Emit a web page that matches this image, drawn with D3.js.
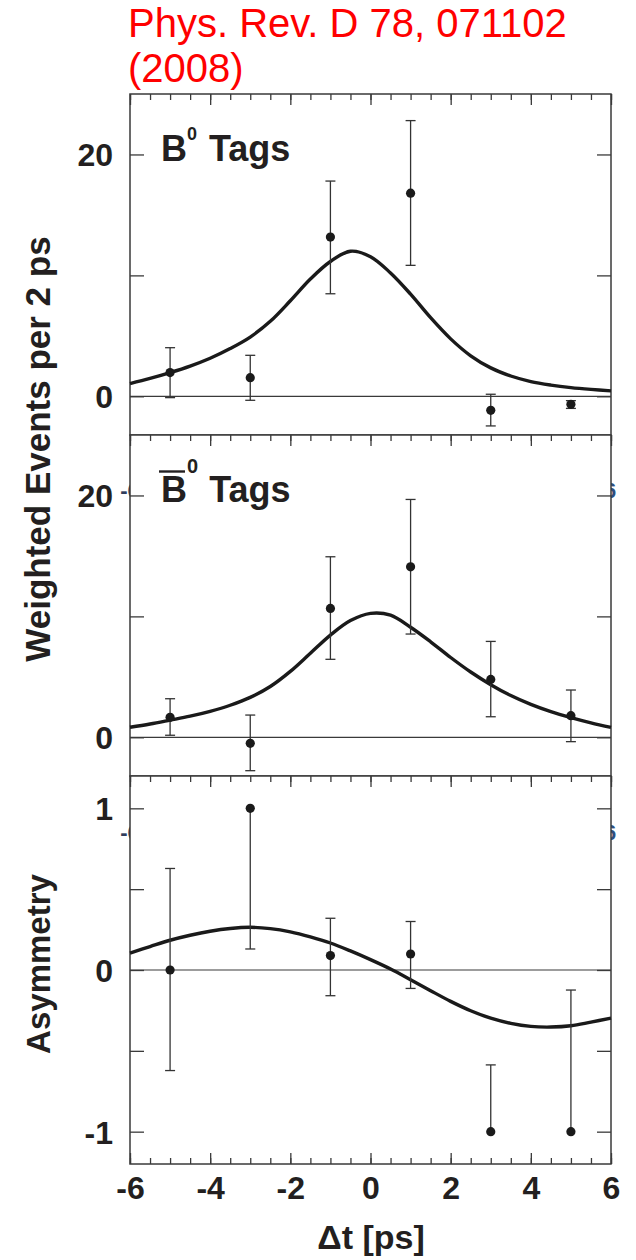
<!DOCTYPE html>
<html lang="en">
<head>
<meta charset="UTF-8">
<script src="https://cdnjs.cloudflare.com/ajax/libs/d3/7.8.5/d3.min.js"></script>
<style>
  body { margin: 0; background: #fff; }
  svg { display: block; font-family: "Liberation Sans", Arial, Helvetica, sans-serif; }
  .frame { fill: #fff; stroke: #3a3a3a; stroke-width: 1.5px; }
  .tick line { stroke: #3a3a3a; stroke-width: 1.3px; }
  .tick text { font-size: 32px; font-weight: bold; fill: #231f20; }
  .zero { stroke: #3a3a3a; stroke-width: 1.2px; }
  .fit { fill: none; stroke: #1a1a1a; stroke-width: 3.4px; }
  .err { stroke: #333; stroke-width: 1.3px; }
  .dot { fill: #1a1a1a; }
  .lbl { font-weight: bold; fill: #231f20; }
</style>
</head>
<body>
<script>
// sample times for the fitted curves (ps)
const curveT = [-6, -5.5, -5, -4.5, -4, -3.5, -3, -2.5, -2, -1.5, -1, -0.5, 0,
                0.5, 1, 1.5, 2, 2.5, 3, 3.5, 4, 4.5, 5, 5.5, 6];

// fitted curves
const b0Fit    = [1.05, 1.48, 1.96, 2.5, 3.15, 3.95, 4.9, 6.2, 7.9, 9.7, 11.15, 12.0, 11.55,
                  10.2, 8.45, 6.5, 4.75, 3.35, 2.35, 1.68, 1.22, 0.93, 0.72, 0.57, 0.45];
const b0barFit = [0.83, 1.1, 1.42, 1.75, 2.15, 2.65, 3.3, 4.2, 5.45, 6.95, 8.45, 9.65, 10.25,
                  10.1, 9.1, 7.9, 6.6, 5.4, 4.35, 3.45, 2.72, 2.12, 1.63, 1.2, 0.82];
const asymFit  = [0.105, 0.145, 0.184, 0.215, 0.24, 0.257, 0.264, 0.256, 0.236, 0.205, 0.167, 0.118, 0.064,
                  0.006, -0.06, -0.128, -0.194, -0.252, -0.298, -0.33, -0.349, -0.353, -0.345, -0.322, -0.298];

// data points (bin centres) with error bar ends
const binT = [-5, -3, -1, 1, 3, 5];
const b0Val = [1.96, 1.54, 13.17, 16.8, -1.16, -0.66];
const b0Lo  = [-0.11, -0.33, 8.48, 10.83, -2.45, -1.0];
const b0Hi  = [4.02, 3.39, 17.8, 22.8, 0.17, -0.36];
const b0barVal = [1.65, -0.5, 10.66, 14.1, 4.79, 1.79];
const b0barLo  = [0.17, -2.76, 6.45, 8.54, 1.70, -0.36];
const b0barHi  = [3.19, 1.84, 14.93, 19.67, 7.93, 3.91];
const asymVal = [0.0, 1.0, 0.089, 0.099, -1.0, -1.0];
const asymLo  = [-0.622, 0.13, -0.159, -0.114, -1.0, -1.0];
const asymHi  = [0.628, 1.0, 0.32, 0.30, -0.587, -0.124];

// axis ticks
const xMajor = [-6, -4, -2, 0, 2, 4, 6];
const xMinor = d3.range(-6, 6.001, 0.5);
const countTicks = [0, 10, 20];
const countLabels = [0, 20];
const asymTicks = [-1, -0.5, 0, 0.5, 1];
const asymLabels = [-1, 0, 1];

const W = 636, H = 1260;
const left = 130, right = 611;

// plain hyphen for negatives, like the original
const fmt = d => String(d);

const svg = d3.select('body').append('svg')
    .attr('width', W).attr('height', H);

const x = d3.scaleLinear().domain([-6, 6]).range([left, right]);

// title
const title = svg.append('text')
    .attr('fill', '#ff0000')
    .style('font-size', '40px');
title.append('tspan').attr('x', 128).attr('y', 37).text('Phys. Rev. D 78, 071102');
title.append('tspan').attr('x', 128).attr('y', 82).text('(2008)');

// leftover label fragments peeking out from behind the panels
[498, 840].forEach(yy => {
    svg.append('text').attr('x', left).attr('y', yy)
        .attr('text-anchor', 'middle').attr('fill', '#2f3d5c')
        .style('font-size', '22px').style('font-weight', 'bold').text('-6');
    svg.append('text').attr('x', right - 1).attr('y', yy)
        .attr('text-anchor', 'middle').attr('fill', '#2f4f80')
        .style('font-size', '22px').style('font-weight', 'bold').text('6');
});

const panels = [
    { top: 94,  bottom: 435,  domain: [-3.2, 25], fit: b0Fit, val: b0Val, lo: b0Lo, hi: b0Hi,
      yTicks: countTicks, yLabels: countLabels },
    { top: 435, bottom: 776,  domain: [-3.2, 25], fit: b0barFit, val: b0barVal, lo: b0barLo, hi: b0barHi,
      yTicks: countTicks, yLabels: countLabels },
    { top: 776, bottom: 1164, domain: [-1.2, 1.2], fit: asymFit, val: asymVal, lo: asymLo, hi: asymHi,
      yTicks: asymTicks, yLabels: asymLabels }
];

panels.forEach((p, i) => {
    const y = d3.scaleLinear().domain(p.domain).range([p.bottom, p.top]);
    const g = svg.append('g');

    g.append('rect').attr('class', 'frame')
        .attr('x', left).attr('y', p.top)
        .attr('width', right - left).attr('height', p.bottom - p.top);

    g.append('line').attr('class', 'zero')
        .attr('x1', left).attr('x2', right)
        .attr('y1', y(0)).attr('y2', y(0));

    // x ticks along the top, pointing in
    g.append('g').attr('transform', `translate(0,${p.top})`)
        .call(d3.axisTop(x).tickValues(xMinor).tickSize(-6).tickFormat(''))
        .call(a => a.select('.domain').remove());
    g.append('g').attr('transform', `translate(0,${p.top})`)
        .call(d3.axisTop(x).tickValues(xMajor).tickSize(-11).tickFormat(''))
        .call(a => a.select('.domain').remove());

    // y ticks both sides
    g.append('g').attr('transform', `translate(${left},0)`)
        .call(d3.axisLeft(y).tickValues(p.yTicks).tickSize(-14).tickPadding(17)
            .tickFormat(d => p.yLabels.includes(d) ? fmt(d) : ''))
        .call(a => a.select('.domain').remove())
        .call(a => a.selectAll('.tick text').attr('dy', '0.36em'));
    g.append('g').attr('transform', `translate(${right},0)`)
        .call(d3.axisRight(y).tickValues(p.yTicks).tickSize(-14).tickFormat(''))
        .call(a => a.select('.domain').remove());

    if (i === 2) {
        g.append('g').attr('transform', `translate(0,${p.bottom})`)
            .call(d3.axisBottom(x).tickValues(xMinor).tickSize(-6).tickFormat(''))
            .call(a => a.select('.domain').remove());
        g.append('g').attr('transform', `translate(0,${p.bottom})`)
            .call(d3.axisBottom(x).tickValues(xMajor).tickSize(-11).tickPadding(12)
                .tickFormat(fmt))
            .call(a => a.select('.domain').remove());
    }

    // fitted curve
    const line = d3.line()
        .x((d, k) => x(curveT[k]))
        .y(d => y(d))
        .curve(d3.curveCatmullRom.alpha(0.5));
    g.append('path').attr('class', 'fit').attr('d', line(p.fit));

    // error bars and points
    const pts = binT.map((t, k) => ({ t, v: p.val[k], lo: p.lo[k], hi: p.hi[k] }));
    const eb = g.selectAll('.eb').data(pts).enter().append('g');
    eb.append('line').attr('class', 'err')
        .attr('x1', d => x(d.t)).attr('x2', d => x(d.t))
        .attr('y1', d => y(d.lo)).attr('y2', d => y(d.hi));
    eb.filter(d => d.hi > d.v).append('line').attr('class', 'err')
        .attr('x1', d => x(d.t) - 5).attr('x2', d => x(d.t) + 5)
        .attr('y1', d => y(d.hi)).attr('y2', d => y(d.hi));
    eb.filter(d => d.lo < d.v).append('line').attr('class', 'err')
        .attr('x1', d => x(d.t) - 5).attr('x2', d => x(d.t) + 5)
        .attr('y1', d => y(d.lo)).attr('y2', d => y(d.lo));
    eb.append('circle').attr('class', 'dot')
        .attr('cx', d => x(d.t)).attr('cy', d => y(d.v)).attr('r', 4.6);
});

// panel captions
const cap1 = svg.append('text').attr('class', 'lbl').attr('x', 161).attr('y', 161)
    .style('font-size', '36px');
cap1.append('tspan').text('B');
cap1.append('tspan').attr('dy', -21).style('font-size', '18px').text('0');
cap1.append('tspan').attr('dy', 21).attr('dx', 12).text('Tags');

const cap2 = svg.append('text').attr('class', 'lbl').attr('x', 161).attr('y', 502)
    .style('font-size', '36px');
cap2.append('tspan').text('B');
cap2.append('tspan').attr('dy', -29).style('font-size', '20px').text('0');
cap2.append('tspan').attr('dy', 29).attr('dx', 11).text('Tags');
svg.append('line').attr('x1', 159).attr('x2', 185).attr('y1', 471.5).attr('y2', 471.5)
    .attr('stroke', '#231f20').attr('stroke-width', 2.4);

// axis titles
svg.append('text').attr('class', 'lbl')
    .attr('transform', 'translate(50,449) rotate(-90)')
    .attr('text-anchor', 'middle').style('font-size', '35px')
    .text('Weighted Events per 2 ps');
svg.append('text').attr('class', 'lbl')
    .attr('transform', 'translate(50,964) rotate(-90)')
    .attr('text-anchor', 'middle').style('font-size', '33px')
    .text('Asymmetry');
svg.append('text').attr('class', 'lbl')
    .attr('x', 371).attr('y', 1249)
    .attr('text-anchor', 'middle').style('font-size', '34px')
    .text('Δt [ps]');
</script>
</body>
</html>
